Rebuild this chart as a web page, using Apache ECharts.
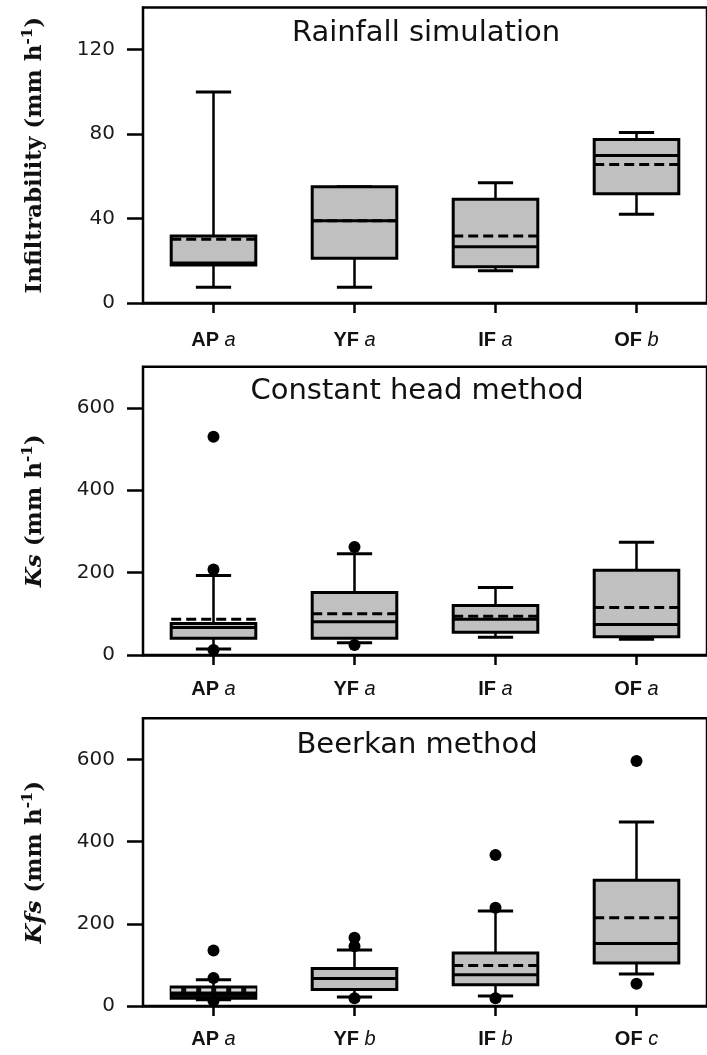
<!DOCTYPE html>
<html><head><meta charset="utf-8">
<script src="https://cdn.jsdelivr.net/npm/echarts@6/dist/echarts.min.js"></script>
<style>html,body{margin:0;padding:0;background:#fff}#c{width:707px;height:1055px}</style>
</head><body><div id="c"></div>
<script>
const categories = ['AP', 'YF', 'IF', 'OF'];

// Panel 1: Rainfall simulation — [min, Q1, median, Q3, max]
const rainLetters = ['a', 'a', 'a', 'b'];
const rainBox = [[7.5, 18, 19, 31.7, 100], [7.5, 21.2, 39, 55.1, 55.1], [15.3, 17.2, 26.7, 49.1, 57], [42, 51.8, 69.9, 77.5, 80.8]];
const rainMean = [30.2, 39, 31.7, 65.6];
const rainOutliers = [];
const rainTicks = [0, 40, 80, 120];

// Panel 2: Constant head method
const chLetters = ['a', 'a', 'a', 'a'];
const chBox = [[14.5, 40.4, 67, 76.7, 193], [29.8, 40.4, 80.6, 152, 246], [43, 55, 87, 120, 164], [38, 44.4, 74, 206, 273.6]];
const chMean = [87, 100, 94, 115.5];
const chOutliers = [[0, 530], [0, 207.5], [0, 12], [1, 262], [1, 24]];
const chTicks = [0, 200, 400, 600];

// Panel 3: Beerkan method
const bkLetters = ['a', 'b', 'b', 'c'];
const bkBox = [[15, 19, 30, 46, 63.7], [22, 40, 67, 91, 136], [24.5, 51.4, 76, 129, 231], [77.6, 104.6, 152, 306, 447.5]];
const bkMean = [39, 67, 98.7, 215];
const bkOutliers = [[0, 135], [0, 68], [0, 12], [1, 166], [1, 145.5], [1, 19], [2, 367.5], [2, 239], [2, 19], [3, 596], [3, 54]];
const bkTicks = [0, 200, 400, 600];

// ---- styling / layout (not data) ----
const panels = [
  {title: 'Rainfall simulation', titleX: 426, titleY: 33, top: 7.5, height: 295.5, max: 140, interval: 40,
   box: rainBox, mean: rainMean, outliers: rainOutliers, ticks: rainTicks, letters: rainLetters, labelMargin: 27,
   name: '{t|Infiltrability (mm h}{s|-1}{t|)}', dark: []},
  {title: 'Constant head method', titleX: 417, titleY: 391, top: 366.7, height: 288.3, max: 700, interval: 200,
   box: chBox, mean: chMean, outliers: chOutliers, ticks: chTicks, letters: chLetters, labelMargin: 24,
   name: '{i|Ks}{t| (mm h}{s|-1}{t|)}', dark: []},
  {title: 'Beerkan method', titleX: 417, titleY: 745, top: 718.3, height: 287.7, max: 700, interval: 200,
   box: bkBox, mean: bkMean, outliers: bkOutliers, ticks: bkTicks, letters: bkLetters, labelMargin: 23,
   name: '{i|Kfs}{t| (mm h}{s|-1}{t|)}', dark: [0]}
];

function renderBox(dark) {
  return function (params, api) {
    const ci = api.value(0);
    const c = v => api.coord([ci, v]);
    const band = api.size([1, 0])[0];
    const hw = band * 0.3, cw = band * 0.125;
    const x = c(0)[0];
    const yMin = c(api.value(1))[1], yQ1 = c(api.value(2))[1], yMed = c(api.value(3))[1],
          yQ3 = c(api.value(4))[1], yMax = c(api.value(5))[1], yMean = c(api.value(6))[1];
    const isDark = dark.indexOf(params.dataIndex) >= 0;
    const ws = {stroke: '#000', lineWidth: 2.5};
    const cs = {stroke: '#000', lineWidth: 3};
    return {type: 'group', children: [
      {type: 'line', shape: {x1: x, y1: yQ3, x2: x, y2: yMax}, style: ws},
      {type: 'line', shape: {x1: x, y1: yQ1, x2: x, y2: yMin}, style: ws},
      {type: 'line', shape: {x1: x - cw, y1: yMax, x2: x + cw, y2: yMax}, style: cs},
      {type: 'line', shape: {x1: x - cw, y1: yMin, x2: x + cw, y2: yMin}, style: cs},
      {type: 'rect', shape: {x: x - hw, y: yQ3, width: 2 * hw, height: yQ1 - yQ3},
       style: {fill: isDark ? '#0a0a0a' : '#c0c0c0', stroke: '#000', lineWidth: 3}},
      {type: 'line', shape: {x1: x - hw, y1: yMed, x2: x + hw, y2: yMed}, style: {stroke: '#000', lineWidth: 3}},
      {type: 'line', shape: {x1: x - hw, y1: yMean, x2: x + hw, y2: yMean},
       style: {stroke: isDark ? '#d8d8d8' : '#000', lineWidth: 3, lineDash: [10, 5]}}
    ]};
  };
}

const grid = [], xAxis = [], yAxis = [], series = [], graphic = [];
panels.forEach((p, k) => {
  grid.push({left: 143, top: p.top, width: 570, height: p.height, show: true,
             borderColor: '#000', borderWidth: 2.5, backgroundColor: 'transparent'});
  xAxis.push({gridIndex: k, type: 'category', data: categories, boundaryGap: true,
    axisLine: {show: true, lineStyle: {color: '#000', width: 2.5}},
    axisTick: {show: true, alignWithLabel: true, length: 10, lineStyle: {color: '#000', width: 2.5}},
    splitLine: {show: false},
    axisLabel: {margin: p.labelMargin, interval: 0,
      formatter: (v, i) => '{b|' + v + '\u00a0}{i|' + p.letters[i] + '}',
      rich: {b: {fontFamily: 'Liberation Sans', fontWeight: 'bold', fontSize: 20, color: '#111'},
             i: {fontFamily: 'Liberation Sans', fontStyle: 'italic', fontSize: 20, color: '#111'}}}});
  yAxis.push({gridIndex: k, type: 'value', min: 0, max: p.max, interval: p.interval,
    axisLine: {show: true, lineStyle: {color: '#000', width: 2}},
    axisTick: {show: true, length: 16, customValues: p.ticks, lineStyle: {color: '#000', width: 2.5}},
    axisLabel: {margin: 28, customValues: p.ticks, fontFamily: 'DejaVu Sans', fontSize: 20, color: '#1a1a1a'},
    splitLine: {show: false},
    name: p.name, nameLocation: 'middle', nameGap: 94,
    nameTextStyle: {rich: {
      t: {fontFamily: 'DejaVu Serif', fontWeight: 'bold', fontSize: 23, color: '#111', lineHeight: 28},
      i: {fontFamily: 'DejaVu Serif', fontWeight: 'bold', fontStyle: 'italic', fontSize: 23, color: '#111', lineHeight: 28},
      s: {fontFamily: 'DejaVu Serif', fontWeight: 'bold', fontSize: 15, color: '#111', verticalAlign: 'top', lineHeight: 16}
    }}});
  series.push({type: 'custom', xAxisIndex: k, yAxisIndex: k, z: 2,
    renderItem: renderBox(p.dark),
    encode: {x: 0, y: [1, 2, 3, 4, 5, 6]},
    data: p.box.map((b, i) => [i].concat(b).concat([p.mean[i]]))});
  series.push({type: 'scatter', xAxisIndex: k, yAxisIndex: k, z: 5, symbol: 'circle', symbolSize: 12,
    itemStyle: {color: '#000', opacity: 1}, data: p.outliers});
  graphic.push({type: 'text', x: p.titleX, y: p.titleY, z: 10,
    style: {text: p.title, fontFamily: 'DejaVu Sans', fontSize: 29, fill: '#111',
            align: 'center', verticalAlign: 'middle', textAlign: 'center', textVerticalAlign: 'middle'}});
});

const chart = echarts.init(document.getElementById('c'), null, {renderer: 'canvas'});
chart.setOption({animation: false, backgroundColor: '#fff', grid, xAxis, yAxis, series, graphic});
</script></body></html>
